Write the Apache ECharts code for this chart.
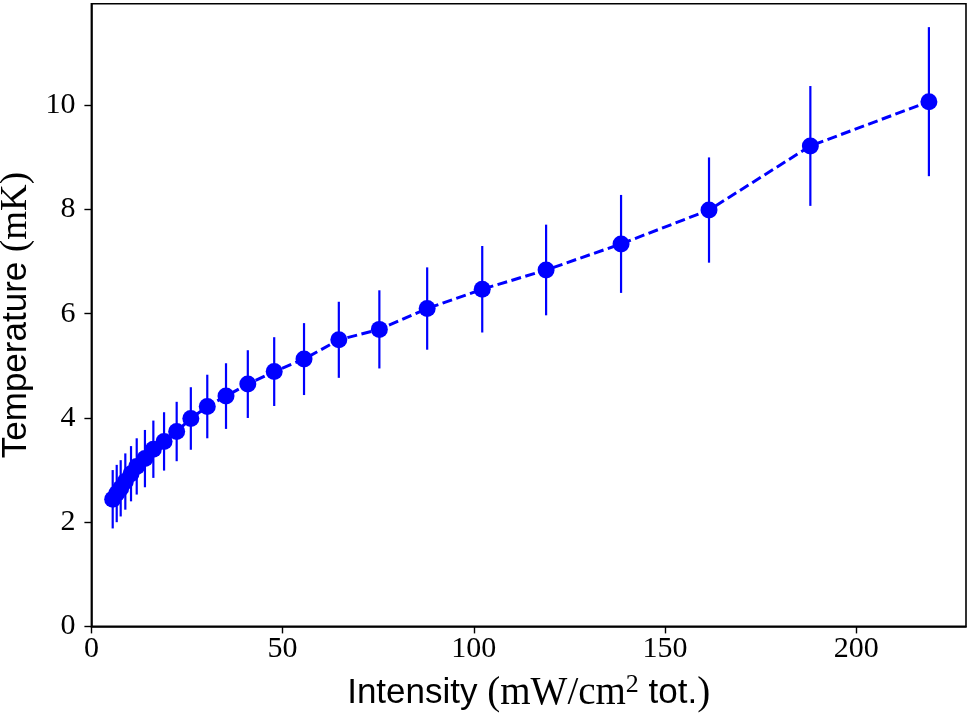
<!DOCTYPE html>
<html>
<head>
<meta charset="utf-8">
<script src="https://cdn.jsdelivr.net/npm/echarts@6/dist/echarts.min.js"></script>
<style>html,body{margin:0;padding:0;background:#fff;}#chart{width:971px;height:716px;}</style>
</head>
<body>
<div id="chart"></div>
<script>
// Intensity (mW/cm^2 tot.)
const intensity = [5.57, 6.62, 7.66, 8.87, 10.36, 11.85, 14.0, 16.2, 19.0, 22.3, 26.0, 30.3, 35.2, 40.9, 47.8, 55.6, 64.7, 75.3, 87.8, 102.2, 118.9, 138.5, 161.5, 188.0, 219.0];
// Temperature (mK)
const temperature = [2.44, 2.55, 2.65, 2.78, 2.93, 3.07, 3.22, 3.40, 3.55, 3.74, 3.99, 4.22, 4.42, 4.65, 4.89, 5.13, 5.50, 5.70, 6.10, 6.47, 6.84, 7.34, 7.99, 9.22, 10.07];
// Error (mK)
const tempError = [0.56, 0.55, 0.54, 0.54, 0.53, 0.54, 0.55, 0.55, 0.56, 0.57, 0.60, 0.61, 0.63, 0.65, 0.66, 0.69, 0.73, 0.75, 0.79, 0.83, 0.87, 0.94, 1.01, 1.15, 1.43];
const xTicks = [0, 50, 100, 150, 200];
const yTicks = [0, 2, 4, 6, 8, 10];

const points = intensity.map((x, i) => [x, temperature[i]]);
const bars = intensity.map((x, i) => [x, temperature[i] - tempError[i], temperature[i] + tempError[i]]);

const blue = '#0000ff';
const serif = 'Liberation Serif';
const sans = 'Liberation Sans';

const chart = echarts.init(document.getElementById('chart'), null, {renderer: 'canvas'});
chart.setOption({
  animation: false,
  backgroundColor: '#ffffff',
  grid: {left: 91.4, right: 5, top: 3.7, bottom: 89.6, show: true, borderColor: '#000', borderWidth: 1.6,
         backgroundColor: 'transparent', containLabel: false, outerBoundsMode: 'none'},
  xAxis: {
    type: 'value', min: 0, max: 228.7, interval: 50,
    splitLine: {show: false},
    axisLine: {show: true, lineStyle: {color: '#000', width: 1.6}},
    axisTick: {show: true, length: 7, customValues: xTicks, lineStyle: {color: '#000', width: 1.4}},
    axisLabel: {
      margin: 8, color: '#000', fontFamily: serif, fontSize: 30, customValues: xTicks
    },
    name: '{s|Intensity }{m|(mW/cm}{sup|2}{s| tot.}{m|)}',
    nameLocation: 'middle', nameGap: 46,
    nameTextStyle: {
      rich: {
        s: {fontFamily: sans, fontSize: 35, color: '#000', lineHeight: 42},
        m: {fontFamily: serif, fontSize: 39, color: '#000', lineHeight: 42},
        sup: {fontFamily: serif, fontSize: 26, color: '#000', lineHeight: 42, verticalAlign: 'top', padding: [0, 0, 14, 0]}
      }
    }
  },
  yAxis: {
    type: 'value', min: 0, max: 11.95, interval: 2,
    splitLine: {show: false},
    axisLine: {show: true, lineStyle: {color: '#000', width: 1.6}},
    axisTick: {show: true, length: 7, customValues: yTicks, lineStyle: {color: '#000', width: 1.4}},
    axisLabel: {
      margin: 16, color: '#000', fontFamily: serif, fontSize: 30, customValues: yTicks
    },
    name: '{s|Temperature }{m|(mK)}',
    nameLocation: 'middle', nameGap: 54, nameRotate: 90,
    nameTextStyle: {
      rich: {
        s: {fontFamily: sans, fontSize: 35, color: '#000', lineHeight: 42},
        m: {fontFamily: serif, fontSize: 37, color: '#000', lineHeight: 42}
      }
    }
  },
  series: [
    {
      type: 'custom',
      data: bars,
      encode: {x: 0, y: [1, 2]},
      renderItem: function (params, api) {
        const x = api.value(0);
        const lo = api.coord([x, api.value(1)]);
        const hi = api.coord([x, api.value(2)]);
        return {
          type: 'line',
          shape: {x1: lo[0], y1: lo[1], x2: hi[0], y2: hi[1]},
          style: {stroke: blue, lineWidth: 2.2}
        };
      },
      z: 2
    },
    {
      type: 'line',
      data: points,
      symbol: 'circle',
      symbolSize: 17,
      showSymbol: true,
      itemStyle: {color: blue, borderWidth: 0},
      lineStyle: {color: blue, width: 3, type: [10, 4.5]},
      z: 3
    }
  ]
});
</script>
</body>
</html>
